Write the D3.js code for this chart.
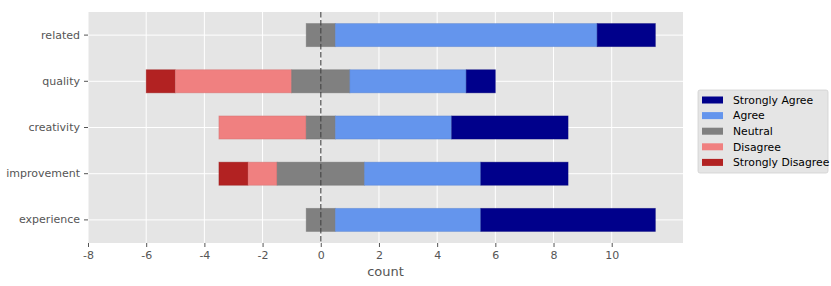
<!DOCTYPE html>
<html>
<head>
    <meta charset="utf-8">
    <title>Likert chart</title>
    <script src="https://cdn.jsdelivr.net/npm/d3@7"></script>
    <style>
        body { margin: 0; background: #fff; }
        text { font-family: "DejaVu Sans", sans-serif; }
    </style>
</head>
<body>
    <div id="chart"></div>
    <script>
        // data
        const categories = ["related", "quality", "creativity", "improvement", "experience"];
        const levels = ["Strongly Disagree", "Disagree", "Neutral", "Agree", "Strongly Agree"];
        const stronglyDisagree = [0, 1, 0, 1, 0];
        const disagree = [0, 4, 3, 1, 0];
        const neutral = [1, 2, 1, 3, 1];
        const agree = [9, 4, 4, 4, 5];
        const stronglyAgree = [2, 1, 4, 3, 6];
        const xTicks = [-8, -6, -4, -2, 0, 2, 4, 6, 8, 10];

        const colors = {
            "Strongly Agree": "#00008b",
            "Agree": "#6495ed",
            "Neutral": "#808080",
            "Disagree": "#f08080",
            "Strongly Disagree": "#b22222"
        };

        const width = 831, height = 286;
        const margin = { top: 12, right: 148, bottom: 43, left: 88 };
        const plotW = width - margin.left - margin.right;
        const plotH = height - margin.top - margin.bottom;

        const svg = d3.select("#chart").append("svg")
            .attr("width", width)
            .attr("height", height);

        const g = svg.append("g")
            .attr("transform", `translate(${margin.left},${margin.top})`);

        const x = d3.scaleLinear().domain([-8, 12.45]).range([0, plotW]);
        const y = d3.scaleBand().domain(categories).range([0, plotH])
            .paddingInner(0.5).paddingOuter(0.25);

        // background
        g.append("rect")
            .attr("width", plotW)
            .attr("height", plotH)
            .attr("fill", "#e5e5e5");

        // grid
        g.append("g").selectAll("line")
            .data(xTicks)
            .enter().append("line")
            .attr("x1", d => x(d)).attr("x2", d => x(d))
            .attr("y1", 0).attr("y2", plotH)
            .attr("stroke", "#fff").attr("stroke-width", 1);
        g.append("g").selectAll("line")
            .data(categories)
            .enter().append("line")
            .attr("x1", 0).attr("x2", plotW)
            .attr("y1", d => y(d) + y.bandwidth() / 2)
            .attr("y2", d => y(d) + y.bandwidth() / 2)
            .attr("stroke", "#fff").attr("stroke-width", 1);

        // build segments
        const segs = [];
        categories.forEach((c, i) => {
            const vals = [stronglyDisagree[i], disagree[i], neutral[i], agree[i], stronglyAgree[i]];
            let start = -(vals[0] + vals[1] + vals[2] / 2);
            vals.forEach((v, j) => {
                if (v > 0) segs.push({ cat: c, level: levels[j], x0: start, x1: start + v });
                start += v;
            });
        });

        g.append("g").selectAll("rect")
            .data(segs)
            .enter().append("rect")
            .attr("x", d => x(d.x0))
            .attr("width", d => x(d.x1) - x(d.x0))
            .attr("y", d => y(d.cat))
            .attr("height", y.bandwidth())
            .attr("fill", d => colors[d.level])
            .attr("stroke", d => d3.color(colors[d.level]).darker(0.4))
            .attr("stroke-opacity", 0.5)
            .attr("stroke-width", 0.8);

        // zero line
        g.append("line")
            .attr("x1", x(0)).attr("x2", x(0))
            .attr("y1", 0).attr("y2", plotH)
            .attr("stroke", "#444")
            .attr("stroke-opacity", 0.75)
            .attr("stroke-width", 1.5)
            .attr("stroke-dasharray", "5.5,2.5");

        // axes
        const xAxis = g.append("g")
            .attr("transform", `translate(0,${plotH})`)
            .call(d3.axisBottom(x).tickValues(xTicks).tickSize(4).tickPadding(4)
                .tickFormat(d => d < 0 ? "-" + Math.abs(d) : d));
        xAxis.select(".domain").remove();
        xAxis.selectAll("line").attr("stroke", "#555");
        xAxis.selectAll("text").attr("fill", "#555").attr("font-size", 11)
            .attr("font-family", "DejaVu Sans");

        const yAxis = g.append("g")
            .call(d3.axisLeft(y).tickSize(4).tickPadding(4));
        yAxis.select(".domain").remove();
        yAxis.selectAll("line").attr("stroke", "#555");
        yAxis.selectAll("text").attr("fill", "#555").attr("font-size", 11)
            .attr("font-family", "DejaVu Sans");

        g.append("text")
            .attr("x", plotW / 2)
            .attr("y", plotH + 33)
            .attr("text-anchor", "middle")
            .attr("fill", "#555")
            .attr("font-size", 13)
            .text("count");

        // legend
        const legendOrder = ["Strongly Agree", "Agree", "Neutral", "Disagree", "Strongly Disagree"];
        const lg = svg.append("g").attr("transform", "translate(698,90)");
        lg.append("rect")
            .attr("width", 130).attr("height", 83)
            .attr("rx", 2)
            .attr("fill", "#e5e5e5")
            .attr("stroke", "#d0d0d0")
            .attr("stroke-width", 0.8);
        const items = lg.selectAll("g.item")
            .data(legendOrder)
            .enter().append("g")
            .attr("class", "item")
            .attr("transform", (d, i) => `translate(0,${10 + i * 15.6})`);
        items.append("rect")
            .attr("x", 4).attr("y", -3.5)
            .attr("width", 21).attr("height", 7)
            .attr("fill", d => colors[d]);
        items.append("text")
            .attr("x", 35).attr("y", 0)
            .attr("dy", "0.35em")
            .attr("font-size", 10.8)
            .attr("fill", "#000")
            .text(d => d);
    </script>
</body>
</html>
